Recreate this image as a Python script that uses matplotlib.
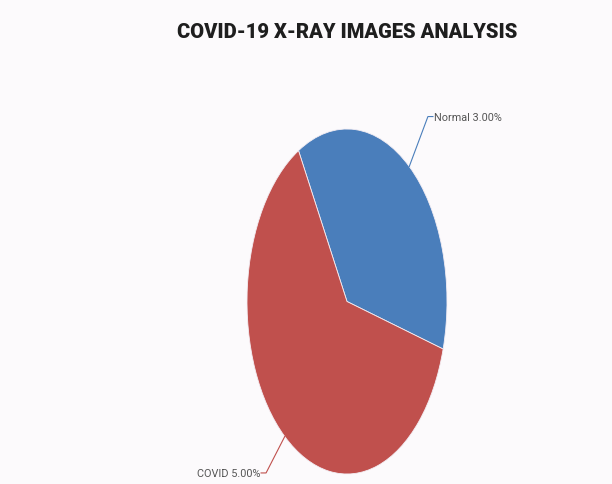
import numpy as np
import matplotlib
matplotlib.use("Agg")
import matplotlib.pyplot as plt

# Dados
labels = ['Normal', 'COVID']
values = [3, 5]
colors = ['#4a7ebb', '#c0504d']
title = 'COVID-19 X-RAY IMAGES ANALYSIS'

fig = plt.figure(figsize=(6.12, 4.85), dpi=100)
fig.patch.set_facecolor('#fcfafc')

# eixo com aspecto livre -> pizza elíptica como no original
ax = fig.add_axes([247/612, 1 - 475/485, 200/612, 345/485])
ax.set_facecolor('none')
start = 119
wedges, _ = ax.pie(values, colors=colors, startangle=start, counterclock=False,
                   radius=1, wedgeprops=dict(linewidth=0.6, edgecolor='#f4eef4'))
ax.set_aspect('auto')
ax.set_xlim(-1, 1)
ax.set_ylim(-1, 1)
ax.axis('off')

# rótulos com linhas guia
for w, lab, v, c in zip(wedges, labels, values, colors):
    ang = np.deg2rad((w.theta1 + w.theta2) / 2)
    x0, y0 = np.cos(ang), np.sin(ang)
    fy = 1.37 if y0 > 0 else 1.27
    x1, y1 = 1.3 * x0, fy * y0
    s = 1 if x0 > 0 else -1
    x2 = x1 + s * 0.05
    ax.plot([x0, x1, x2], [y0, y1, y1], color=c, lw=0.8, clip_on=False)
    ax.text(x2 + s * 0.01, y1, f'{lab} {v:.2f}%', ha='left' if s > 0 else 'right',
            va='center', fontsize=7.8, color='#555555',
            family=['Roboto', 'DejaVu Sans'], clip_on=False)

fig.text(347/612, 1 - 32/485, title, ha='center', va='center', fontsize=14.5,
         fontweight='heavy', color='#1e1e1e',
         family=['Roboto', 'DejaVu Sans'])

fig.savefig('out.png', dpi=100, facecolor=fig.get_facecolor())
